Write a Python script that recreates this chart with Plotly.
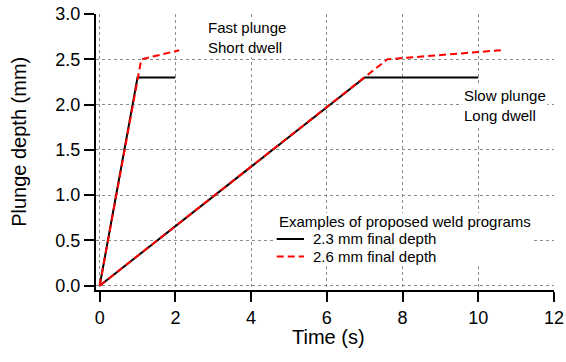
import plotly.graph_objects as go

# Fast plunge / short dwell program
fast_t_23 = [0, 1.0, 2.0]
fast_d_23 = [0, 2.3, 2.3]
fast_t_26 = [0, 1.0, 1.1, 2.1]
fast_d_26 = [0, 2.3, 2.5, 2.6]

# Slow plunge / long dwell program
slow_t_23 = [0, 7.0, 10.0]
slow_d_23 = [0, 2.3, 2.3]
slow_t_26 = [0, 7.0, 7.6, 10.6]
slow_d_26 = [0, 2.3, 2.5, 2.6]

x_ticks = [0, 2, 4, 6, 8, 10, 12]
y_ticks = [0.0, 0.5, 1.0, 1.5, 2.0, 2.5, 3.0]
y_tick_text = ["0.0", "0.5", "1.0", "1.5", "2.0", "2.5", "3.0"]

legend_title = "Examples of proposed weld programs"
series_names = ["2.3 mm final depth", "2.6 mm final depth"]

FONT = "Arial, Liberation Sans, sans-serif"
BLACK_LINE = dict(color="black", width=2)
RED_LINE = dict(color="#ff0000", width=2, dash="7px,4px")

fig = go.Figure()
fig.add_trace(go.Scatter(x=fast_t_23, y=fast_d_23, mode="lines", line=BLACK_LINE,
                         name=series_names[0], showlegend=False))
fig.add_trace(go.Scatter(x=slow_t_23, y=slow_d_23, mode="lines", line=BLACK_LINE,
                         name=series_names[0], showlegend=False))
fig.add_trace(go.Scatter(x=fast_t_26, y=fast_d_26, mode="lines", line=RED_LINE,
                         name=series_names[1], showlegend=False))
fig.add_trace(go.Scatter(x=slow_t_26, y=slow_d_26, mode="lines", line=RED_LINE,
                         name=series_names[1], showlegend=False))

# Text labels with white boxes
fig.add_annotation(x=2.818, y=2.743, xref="x", yref="y", text="Fast plunge<br>Short dwell",
                   showarrow=False, xanchor="left", yanchor="middle", align="left",
                   bgcolor="white", borderpad=1,
                   font=dict(size=15, color="black", family=FONT))
fig.add_annotation(x=9.58, y=1.99, xref="x", yref="y", text="Slow plunge<br>Long dwell",
                   showarrow=False, xanchor="left", yanchor="middle", align="left",
                   bgcolor="white", borderpad=1,
                   font=dict(size=15, color="black", family=FONT))

# Legend (drawn as a white box with title, line samples and labels)
fig.add_shape(type="rect", xref="paper", yref="paper", x0=0.3908, x1=0.9541,
              y0=0.0978, y1=0.279, fillcolor="white", line=dict(width=0), layer="above")
fig.add_annotation(x=0.3967, y=0.2482, xref="paper", yref="paper", text=legend_title,
                   showarrow=False, xanchor="left", yanchor="middle", borderpad=0,
                   font=dict(size=15, color="black", family=FONT))
leg_y = [0.1848, 0.1214]
leg_lines = [BLACK_LINE, RED_LINE]
for name, yy, ln in zip(series_names, leg_y, leg_lines):
    fig.add_shape(type="line", xref="paper", yref="paper", x0=0.3946, x1=0.4541,
                  y0=yy, y1=yy, line=ln, layer="above")
    fig.add_annotation(x=0.471, y=yy, xref="paper", yref="paper", text=name,
                       showarrow=False, xanchor="left", yanchor="middle", borderpad=0,
                       font=dict(size=15, color="black", family=FONT))

# Axis titles
fig.add_annotation(x=0.5066, y=-0.170, xref="paper", yref="paper", text="Time (s)",
                   showarrow=False, xanchor="center", yanchor="middle",
                   font=dict(size=20, color="black", family=FONT))
fig.add_annotation(x=-0.168, y=0.537, xref="paper", yref="paper", text="Plunge depth (mm)",
                   showarrow=False, xanchor="center", yanchor="middle", textangle=-90,
                   font=dict(size=20, color="black", family=FONT))

axis_common = dict(
    showline=True, linecolor="black", linewidth=2,
    ticks="outside", ticklen=10, tickwidth=2, tickcolor="black",
    showgrid=True, gridcolor="#8c8c8c", griddash="dot", gridwidth=1,
    zeroline=False, automargin=False,
    tickfont=dict(size=18, color="black", family=FONT),
)

fig.update_xaxes(range=[-0.097, 12], tickvals=x_ticks, **axis_common)
fig.update_yaxes(range=[-0.047, 3.0], tickvals=y_ticks, ticktext=y_tick_text, **axis_common)

fig.update_layout(
    width=566, height=362,
    margin=dict(l=96, r=12, t=14, b=72),
    plot_bgcolor="white", paper_bgcolor="white",
    font=dict(family=FONT, color="black"),
    showlegend=False,
)

fig.write_html("out.html")
